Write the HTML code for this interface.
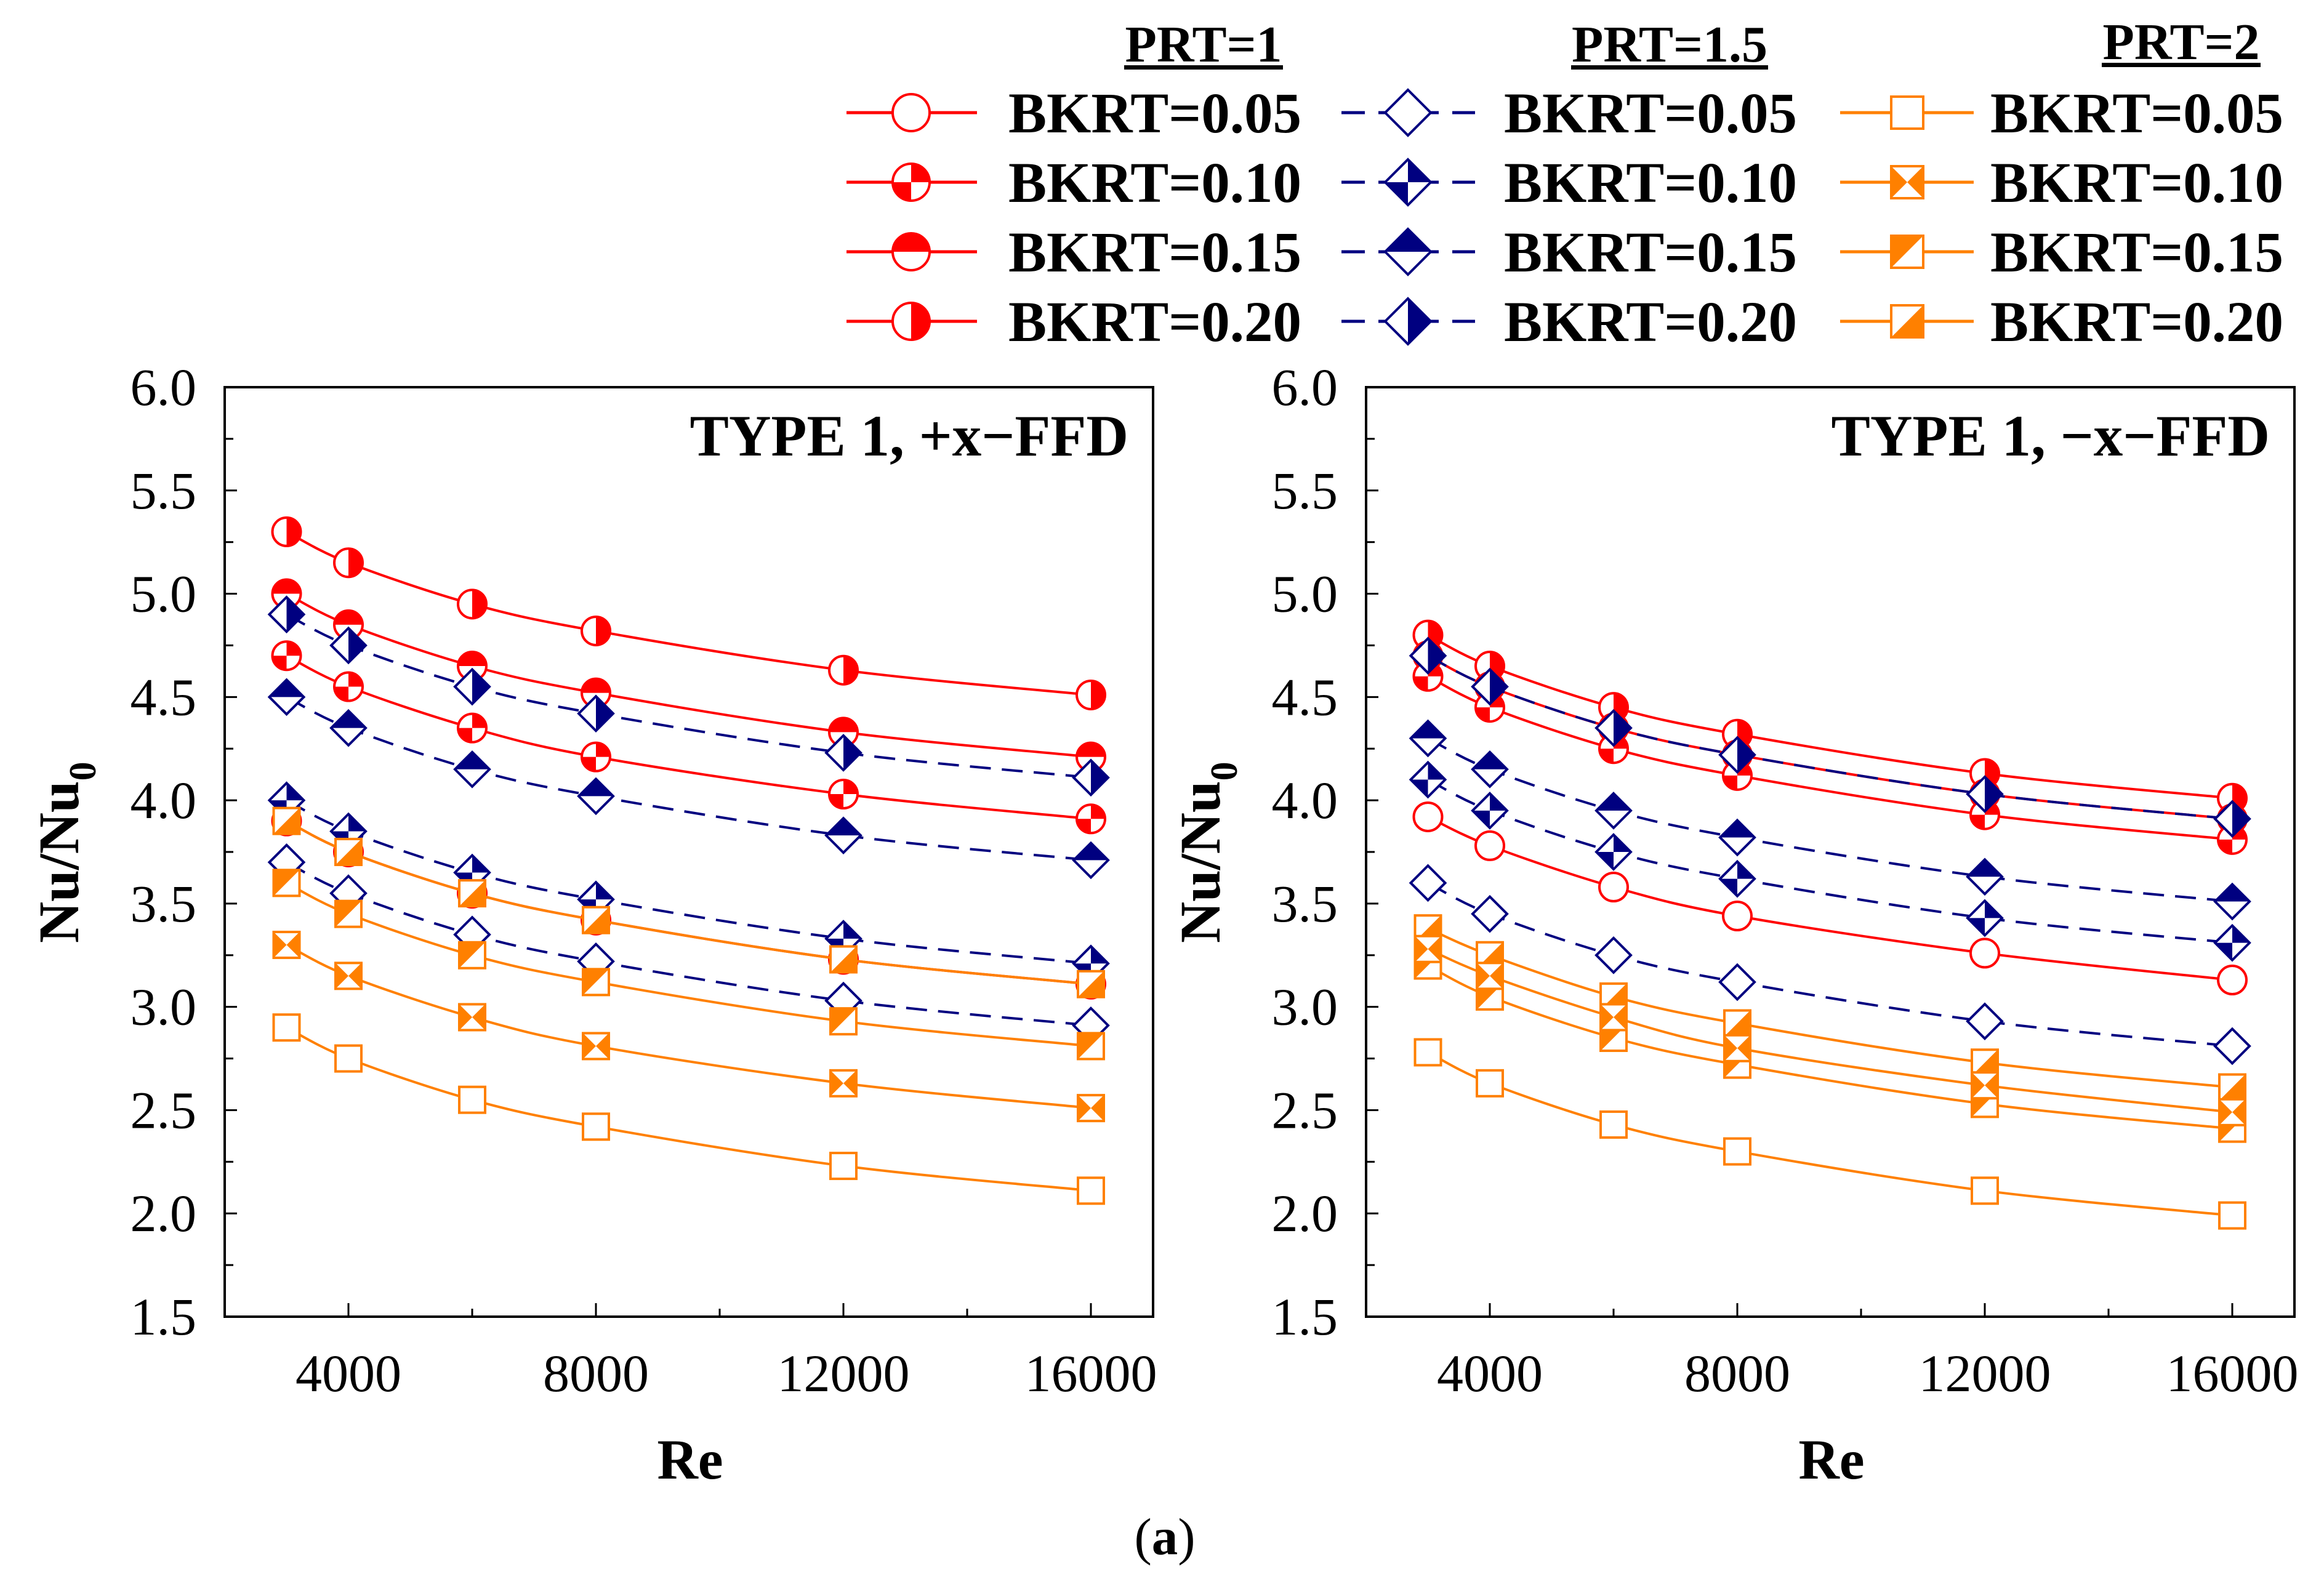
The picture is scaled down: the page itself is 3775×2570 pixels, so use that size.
<!DOCTYPE html>
<html><head><meta charset="utf-8"><style>
html,body{margin:0;padding:0;background:#fff;}
svg{display:block;font-family:"Liberation Serif","DejaVu Serif",serif;}
</style></head><body>
<svg id="fig" width="3775" height="2570" viewBox="0 0 3775 2570" xmlns="http://www.w3.org/2000/svg"></svg>
<script>
// ---- data ----
const reValues = [3000, 4000, 6000, 8000, 12000, 16000];
const xTickLabels = [4000, 8000, 12000, 16000];
const yTickLabels = ["1.5","2.0","2.5","3.0","3.5","4.0","4.5","5.0","5.5","6.0"];
const bkrtLabels = ["BKRT=0.05","BKRT=0.10","BKRT=0.15","BKRT=0.20"];
const prtLabels = ["PRT=1","PRT=1.5","PRT=2"];
// Panel 1 (+x-FFD)
const p1_prt1_005 = [3.90, 3.75, 3.55, 3.42, 3.23, 3.11];
const p1_prt1_010 = [4.70, 4.55, 4.35, 4.21, 4.03, 3.91];
const p1_prt1_015 = [5.00, 4.85, 4.65, 4.52, 4.33, 4.21];
const p1_prt1_020 = [5.30, 5.15, 4.95, 4.82, 4.63, 4.51];
const p1_prt15_005 = [3.70, 3.55, 3.35, 3.22, 3.03, 2.91];
const p1_prt15_010 = [4.00, 3.85, 3.65, 3.52, 3.33, 3.21];
const p1_prt15_015 = [4.50, 4.35, 4.15, 4.02, 3.83, 3.71];
const p1_prt15_020 = [4.90, 4.75, 4.55, 4.42, 4.23, 4.11];
const p1_prt2_005 = [2.90, 2.75, 2.55, 2.42, 2.23, 2.11];
const p1_prt2_010 = [3.30, 3.15, 2.95, 2.81, 2.63, 2.51];
const p1_prt2_015 = [3.60, 3.45, 3.25, 3.12, 2.93, 2.81];
const p1_prt2_020 = [3.90, 3.75, 3.55, 3.42, 3.23, 3.11];
// Panel 2 (-x-FFD)
const p2_prt1_005 = [3.92, 3.78, 3.58, 3.44, 3.26, 3.13];
const p2_prt1_010 = [4.60, 4.45, 4.25, 4.12, 3.93, 3.81];
const p2_prt1_015 = [4.70, 4.55, 4.35, 4.22, 4.03, 3.91];
const p2_prt1_020 = [4.80, 4.65, 4.45, 4.32, 4.13, 4.01];
const p2_prt15_005 = [3.60, 3.45, 3.25, 3.12, 2.93, 2.81];
const p2_prt15_010 = [4.10, 3.95, 3.75, 3.62, 3.43, 3.31];
const p2_prt15_015 = [4.30, 4.15, 3.95, 3.82, 3.63, 3.51];
const p2_prt15_020 = [4.70, 4.55, 4.35, 4.22, 4.03, 3.91];
const p2_prt2_005 = [2.78, 2.63, 2.43, 2.30, 2.11, 1.99];
const p2_prt2_010 = [3.28, 3.15, 2.95, 2.80, 2.62, 2.49];
const p2_prt2_015 = [3.20, 3.05, 2.85, 2.72, 2.53, 2.41];
const p2_prt2_020 = [3.38, 3.25, 3.05, 2.92, 2.73, 2.61];

const NS = "http://www.w3.org/2000/svg";
const svg = document.getElementById("fig");
function mk(tag, attrs, parent) {
  const e = document.createElementNS(NS, tag);
  for (const k in attrs) e.setAttribute(k, attrs[k]);
  (parent || svg).appendChild(e);
  return e;
}
const RED = "#ff0000", BLUE = "#000080", ORANGE = "#ff8000";
const styles = {
  prt1: {color: RED, dash: null, shape: "circle"},
  prt15: {color: BLUE, dash: "34 18", shape: "diamond"},
  prt2: {color: ORANGE, dash: null, shape: "square"}
};
const patterns = ["open", "q", "h", "v"];

function marker(g, cx, cy, shape, pat, color, s) {
  const sw = 4;
  if (shape === "circle") {
    const r = s;
    mk("circle", {cx, cy, r, fill: "#fff"}, g);
    let d = "";
    if (pat === "q") d = `M${cx},${cy} L${cx},${cy-r} A${r},${r} 0 0 1 ${cx+r},${cy} Z M${cx},${cy} L${cx},${cy+r} A${r},${r} 0 0 1 ${cx-r},${cy} Z`;
    if (pat === "h") d = `M${cx-r},${cy} A${r},${r} 0 0 1 ${cx+r},${cy} Z`;
    if (pat === "v") d = `M${cx},${cy-r} A${r},${r} 0 0 1 ${cx},${cy+r} Z`;
    if (d) mk("path", {d, fill: color}, g);
    mk("circle", {cx, cy, r, fill: "none", stroke: color, "stroke-width": sw}, g);
  } else if (shape === "diamond") {
    const T = [cx, cy - s], R = [cx + s, cy], B = [cx, cy + s], L = [cx - s, cy], C = [cx, cy];
    const P = a => a.map(p => p.join(",")).join(" ");
    mk("polygon", {points: P([T, R, B, L]), fill: "#fff"}, g);
    if (pat === "q") { mk("polygon", {points: P([T, R, C]), fill: color}, g); mk("polygon", {points: P([L, B, C]), fill: color}, g); }
    if (pat === "h") mk("polygon", {points: P([L, T, R]), fill: color}, g);
    if (pat === "v") mk("polygon", {points: P([T, R, B]), fill: color}, g);
    mk("polygon", {points: P([T, R, B, L]), fill: "none", stroke: color, "stroke-width": sw}, g);
  } else {
    const TL = [cx - s, cy - s], TR = [cx + s, cy - s], BR = [cx + s, cy + s], BL = [cx - s, cy + s], C = [cx, cy];
    const P = a => a.map(p => p.join(",")).join(" ");
    mk("rect", {x: cx - s, y: cy - s, width: 2 * s, height: 2 * s, fill: "#fff"}, g);
    if (pat === "q") { mk("polygon", {points: P([TL, BL, C]), fill: color}, g); mk("polygon", {points: P([TR, BR, C]), fill: color}, g); }
    if (pat === "h") mk("polygon", {points: P([TL, TR, BL]), fill: color}, g);
    if (pat === "v") mk("polygon", {points: P([TR, BR, BL]), fill: color}, g);
    mk("rect", {x: cx - s, y: cy - s, width: 2 * s, height: 2 * s, fill: "none", stroke: color, "stroke-width": sw}, g);
  }
}
function smoothPath(pts) {
  let d = `M${pts[0][0]},${pts[0][1]}`;
  for (let i = 0; i < pts.length - 1; i++) {
    const p0 = pts[Math.max(0, i - 1)], p1 = pts[i], p2 = pts[i + 1], p3 = pts[Math.min(pts.length - 1, i + 2)];
    const c1 = [p1[0] + (p2[0] - p0[0]) / 6, p1[1] + (p2[1] - p0[1]) / 6];
    const c2 = [p2[0] - (p3[0] - p1[0]) / 6, p2[1] - (p3[1] - p1[1]) / 6];
    d += ` C${c1[0]},${c1[1]} ${c2[0]},${c2[1]} ${p2[0]},${p2[1]}`;
  }
  return d;
}
function text(str, x, y, size, opts, parent) {
  opts = opts || {};
  const t = mk("text", {x, y, "font-size": size, "font-weight": opts.bold ? "bold" : "normal",
    "text-anchor": opts.anchor || "start", fill: "#000"}, parent);
  t.textContent = str;
  return t;
}

function panel(idx, left, title, series) {
  const top = 629, bottom = 2139, right = left + 1508;
  const g = mk("g", {});
  
  
  const X = re => left + 201 + (re - 4000) * 0.1005;
  const Y = v => bottom - (v - 1.5) * (bottom - top) / 4.5;
  const sg = mk("g", {}, g);
  
  
  series.forEach(se => {
    const st = styles[se.prt];
    const pts = reValues.map((r, i) => [X(r), Y(se.vals[i])]);
    const line = mk("path", {d: smoothPath(pts), fill: "none", stroke: st.color, "stroke-width": 4}, sg);
    if (st.dash) line.setAttribute("stroke-dasharray", st.dash);
    
    
    const mg = mk("g", {}, sg);
    
    
    const sz = st.shape === "circle" ? 23 : (st.shape === "diamond" ? 28 : 21);
    pts.forEach(p => marker(mg, p[0], p[1], st.shape, se.pat, st.color, sz));
  });
  const fr = mk("rect", {x: left, y: top, width: right - left, height: bottom - top, fill: "none", stroke: "#000", "stroke-width": 4}, g);
  
  
  for (let k = 0; k <= 18; k++) {
    const v = 1.5 + k * 0.25, y = Y(v);
    mk("line", {x1: left, x2: left + (k % 2 === 0 ? 20 : 14), y1: y, y2: y, stroke: "#000", "stroke-width": 3}, g);
  }
  yTickLabels.forEach(lbl => {
    const t = text(lbl, left - 46, Y(parseFloat(lbl)) + 29, 86, {anchor: "end"}, g);
    
    
  });
  for (let re = 4000; re <= 16000; re += 2000) {
    const x = X(re);
    mk("line", {x1: x, x2: x, y1: bottom, y2: bottom - (re % 4000 === 0 ? 22 : 13), stroke: "#000", "stroke-width": 3}, g);
  }
  xTickLabels.forEach(re => {
    const t = text(String(re), X(re), 2260, 86, {anchor: "middle"}, g);
    
    
  });
  const xt = text("Re", left + 756, 2402, 92, {anchor: "middle", bold: true}, g);
  
  
  const yx = left - 238;
  const yt = mk("text", {x: 0, y: 0, "font-size": 93, "font-weight": "bold", transform: `translate(${yx},1532) rotate(-90)`}, g);
  
  
  const ts1 = mk("tspan", {}, yt); ts1.textContent = "Nu/Nu";
  const ts2 = mk("tspan", {dy: 28, "font-size": 62}, yt); ts2.textContent = "0";
  const tt = text(title, right - 40, 740, 95, {anchor: "end", bold: true}, g);
  
  
}

const S = (prt, pat, vals) => ({prt, pat, vals});
panel(1, 365, "TYPE 1, +x\u2212FFD", [
  S("prt1", "v", p1_prt1_020), S("prt1", "h", p1_prt1_015), S("prt1", "q", p1_prt1_010), S("prt1", "open", p1_prt1_005),
  S("prt15", "v", p1_prt15_020), S("prt15", "h", p1_prt15_015), S("prt15", "q", p1_prt15_010), S("prt15", "open", p1_prt15_005),
  S("prt2", "v", p1_prt2_020), S("prt2", "h", p1_prt2_015), S("prt2", "q", p1_prt2_010), S("prt2", "open", p1_prt2_005)
]);
panel(2, 2219, "TYPE 1, \u2212x\u2212FFD", [
  S("prt1", "v", p2_prt1_020), S("prt1", "h", p2_prt1_015), S("prt1", "q", p2_prt1_010), S("prt1", "open", p2_prt1_005),
  S("prt15", "v", p2_prt15_020), S("prt15", "h", p2_prt15_015), S("prt15", "q", p2_prt15_010), S("prt15", "open", p2_prt15_005),
  S("prt2", "v", p2_prt2_020), S("prt2", "h", p2_prt2_015), S("prt2", "q", p2_prt2_010), S("prt2", "open", p2_prt2_005)
]);

// legend
const lg = mk("g", {});


const cols = [
  {key: "prt1", x1: 1375, x2: 1587, mx: 1480, tx: 1638, hx: 1955, hy: 100},
  {key: "prt15", x1: 2179, x2: 2396, mx: 2287, tx: 2443, hx: 2712, hy: 100},
  {key: "prt2", x1: 2989, x2: 3206, mx: 3098, tx: 3233, hx: 3543, hy: 96}
];
const rowY = [215, 328, 441, 554];
cols.forEach((c, ci) => {
  const st = styles[c.key];
  const h = text(prtLabels[ci], c.hx, c.hy, 84, {anchor: "middle", bold: true}, lg);
  
  
  const w = prtLabels[ci].length > 5 ? 320 : 258;
  mk("rect", {x: c.hx - w / 2, y: c.hy + 6, width: w, height: 7, fill: "#000"}, lg);
  rowY.forEach((by, ri) => {
    const cy = by - 32;
    const eg = mk("g", {}, lg);
    
    
    const ln = mk("line", {x1: c.x1, x2: c.x2, y1: cy, y2: cy, stroke: st.color, "stroke-width": 5}, eg);
    if (st.dash) ln.setAttribute("stroke-dasharray", "38 22");
    const sz = st.shape === "circle" ? 30 : (st.shape === "diamond" ? 37 : 26);
    marker(eg, c.mx, cy, st.shape, patterns[ri], st.color, sz);
    text(bkrtLabels[ri], c.tx, by, 93, {bold: true}, eg);
  });
});
const cap = mk("text", {x: 1892, y: 2525, "font-size": 85, "text-anchor": "middle"});


const c1 = mk("tspan", {}, cap); c1.textContent = "(";
const c2 = mk("tspan", {"font-weight": "bold"}, cap); c2.textContent = "a";
const c3 = mk("tspan", {}, cap); c3.textContent = ")";
</script>
</body></html>
